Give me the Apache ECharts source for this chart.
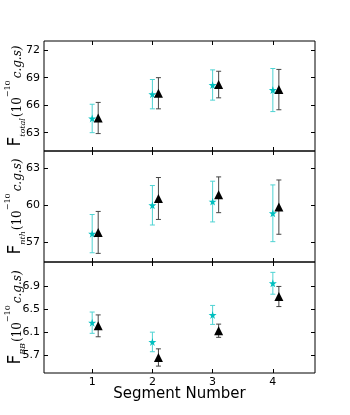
<!DOCTYPE html>
<html>
<head>
<meta charset="utf-8">
<script src="https://cdn.jsdelivr.net/npm/echarts@6/dist/echarts.min.js"></script>
<style>
  html, body { margin: 0; padding: 0; background: #fff; }
  #chart { width: 350px; height: 415px; }
</style>
</head>
<body>
<div id="chart"></div>
<script>
// segment positions, black points shifted right a bit
const segments = [1, 2, 3, 4];
const blackShift = 0.1;

// F_total
const totalCyan = [64.55, 67.2, 68.2, 67.65];
const totalCyanErr = [1.55, 1.6, 1.65, 2.35];
const totalBlack = [64.6, 67.3, 68.25, 67.7];
const totalBlackErr = [1.7, 1.7, 1.45, 2.2];

// F_nth
const nthCyan = [57.7, 60.0, 60.3, 59.35];
const nthCyanErr = [1.55, 1.6, 1.65, 2.3];
const nthBlack = [57.8, 60.55, 60.85, 59.85];
const nthBlackErr = [1.7, 1.7, 1.45, 2.2];

// F_BB
const bbCyan = [6.265, 5.93, 6.4, 6.95];
const bbCyanErr = [0.185, 0.17, 0.165, 0.19];
const bbBlack = [6.21, 5.66, 6.125, 6.72];
const bbBlackErr = [0.19, 0.15, 0.115, 0.175];

const totalTicks = [63, 66, 69, 72];
const nthTicks = [57, 60, 63];
const bbTicks = [5.7, 6.1, 6.5, 6.9];
const xTicks = [1, 2, 3, 4];

const cyan = '#00bfbf';
const cyanBar = '#4fd3d3';
const dark = '#000';
const darkBar = '#444';
const starPath = 'path://M50,0 L61,35 L98,35 L68,57 L79,91 L50,70 L21,91 L32,57 L2,35 L39,35 Z';

const panels = [
    { top: 41, height: 110, min: 61, max: 73, ticks: totalTicks, sub: 'total',
      cyan: totalCyan, cyanErr: totalCyanErr, black: totalBlack, blackErr: totalBlackErr },
    { top: 151, height: 111, min: 55.4, max: 64.4, ticks: nthTicks, sub: 'nth',
      cyan: nthCyan, cyanErr: nthCyanErr, black: nthBlack, blackErr: nthBlackErr },
    { top: 262, height: 111, min: 5.39, max: 7.32, ticks: bbTicks, sub: 'BB',
      cyan: bbCyan, cyanErr: bbCyanErr, black: bbBlack, blackErr: bbBlackErr }
];

const labelFont = 'DejaVu Sans';
const nameRich = {
    f: { fontFamily: labelFont, fontSize: 17, color: '#000', verticalAlign: 'bottom', lineHeight: 20 },
    sub: { fontFamily: 'DejaVu Serif', fontStyle: 'italic', fontSize: 8, color: '#000', verticalAlign: 'bottom', lineHeight: 20, padding: [0, 1, -3, 0] },
    p: { fontFamily: 'DejaVu Serif', fontSize: 12, color: '#000', verticalAlign: 'bottom', lineHeight: 20 },
    sup: { fontFamily: 'DejaVu Serif', fontSize: 8, color: '#000', verticalAlign: 'top', lineHeight: 20, padding: [0, 2, 0, 0] },
    it: { fontFamily: 'DejaVu Serif', fontStyle: 'italic', fontSize: 12, color: '#000', verticalAlign: 'bottom', lineHeight: 20 }
};

function errorBars(xIdx, xs, ys, errs, color) {
    return {
        type: 'custom',
        xAxisIndex: xIdx,
        yAxisIndex: xIdx,
        silent: true,
        z: 2,
        data: xs.map((x, i) => [x, ys[i], errs[i]]),
        renderItem: function (params, api) {
            const x = api.value(0), y = api.value(1), e = api.value(2);
            const hi = api.coord([x, y + e]);
            const lo = api.coord([x, y - e]);
            const cap = 2.5;
            const st = { stroke: color, lineWidth: 1 };
            return {
                type: 'group',
                children: [
                    { type: 'line', shape: { x1: hi[0], y1: hi[1], x2: lo[0], y2: lo[1] }, style: st },
                    { type: 'line', shape: { x1: hi[0] - cap, y1: hi[1], x2: hi[0] + cap, y2: hi[1] }, style: st },
                    { type: 'line', shape: { x1: lo[0] - cap, y1: lo[1], x2: lo[0] + cap, y2: lo[1] }, style: st }
                ]
            };
        }
    };
}

const grid = [], xAxis = [], yAxis = [], series = [];
const tickStyle = { show: true, inside: true, length: 4, lineStyle: { color: '#000', width: 1 } };

panels.forEach((p, i) => {
    const last = i === panels.length - 1;
    grid.push({ left: 44, right: 35, top: p.top, height: p.height, outerBoundsMode: 'none', containLabel: false,
        show: true, borderColor: '#000', borderWidth: 1, backgroundColor: 'transparent' });
    const xBase = { type: 'value', gridIndex: i, min: 0.2, max: 4.7, splitLine: { show: false },
        axisLine: { show: false } };
    xAxis.push(Object.assign({}, xBase, {
        position: 'bottom',
        axisTick: Object.assign({ customValues: xTicks }, tickStyle),
        axisLabel: { show: last, customValues: xTicks, color: '#000', fontFamily: labelFont, fontSize: 11, margin: 4 },
        name: last ? 'Segment Number' : '',
        nameLocation: 'middle', nameGap: 14, nameMoveOverlap: false,
        nameTextStyle: { fontFamily: labelFont, fontSize: 15, color: '#000', verticalAlign: 'top' }
    }));
    xAxis.push(Object.assign({}, xBase, {
        position: 'top',
        axisTick: Object.assign({ customValues: xTicks }, tickStyle),
        axisLabel: { show: false }
    }));
    const yBase = { type: 'value', gridIndex: i, min: p.min, max: p.max, splitLine: { show: false },
        axisLine: { show: false } };
    yAxis.push(Object.assign({}, yBase, {
        position: 'left',
        axisTick: Object.assign({ customValues: p.ticks }, tickStyle),
        axisLabel: { customValues: p.ticks, color: '#000', fontFamily: labelFont, fontSize: 11, margin: 4,
            formatter: v => (i === 2 ? v.toFixed(1) : String(v)) },
        name: '{f|F}{sub|' + p.sub + '}{p|(10}{sup|−10}{it|c.g.s)}',
        nameLocation: 'middle', nameRotate: 90, nameGap: 20, nameMoveOverlap: false,
        nameTextStyle: { rich: nameRich }
    }));
    yAxis.push(Object.assign({}, yBase, {
        position: 'right',
        axisTick: Object.assign({ customValues: p.ticks }, tickStyle),
        axisLabel: { show: false }
    }));

    const bx = 2 * i; // bottom x / left y index
    const blackXs = segments.map(s => s + blackShift);
    series.push(errorBars(bx, segments, p.cyan, p.cyanErr, cyanBar));
    series.push(errorBars(bx, blackXs, p.black, p.blackErr, darkBar));
    series.push({
        type: 'scatter', xAxisIndex: bx, yAxisIndex: bx, z: 3, silent: true,
        symbol: starPath, symbolSize: 8,
        itemStyle: { color: cyan, opacity: 1 },
        data: segments.map((s, k) => [s, p.cyan[k]])
    });
    series.push({
        type: 'scatter', xAxisIndex: bx, yAxisIndex: bx, z: 3, silent: true,
        symbol: 'triangle', symbolSize: 9,
        itemStyle: { color: dark, opacity: 1 },
        data: blackXs.map((s, k) => [s, p.black[k]])
    });
});

const chart = echarts.init(document.getElementById('chart'), null, { renderer: 'canvas' });
chart.setOption({
    animation: false,
    grid: grid,
    xAxis: xAxis,
    yAxis: yAxis,
    series: series
});
</script>
</body>
</html>
